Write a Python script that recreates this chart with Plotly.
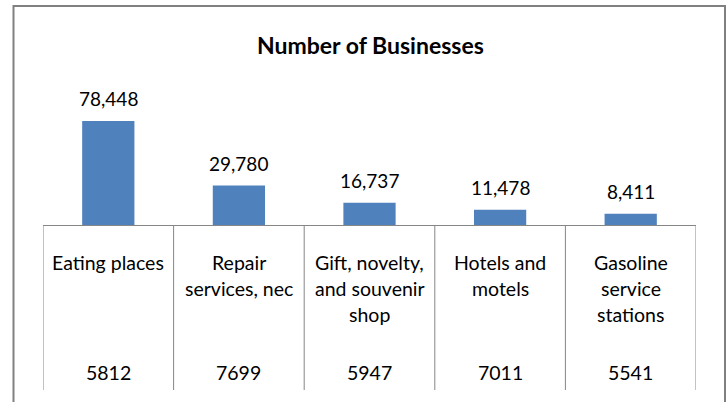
import plotly.graph_objects as go

categories = ["Eating places", "Repair<br>services, nec", "Gift, novelty,<br>and souvenir<br>shop",
              "Hotels and<br>motels", "Gasoline<br>service<br>stations"]
codes = ["5812", "7699", "5947", "7011", "5541"]
values = [78448, 29780, 16737, 11478, 8411]
title = "Number of Businesses"

W, H = 728, 402
L, R = 43, 696          # plot area left/right px
T, B = 60, 225          # plot area top/bottom px
ph = B - T
pw = R - L

def py(p):  # pixel y -> paper y
    return (B - p) / ph

def px(p):
    return (p - L) / pw

FONT = "Lato, 'Open Sans', sans-serif"
GRAY = "#868686"
x = list(range(len(values)))

fig = go.Figure()
fig.add_trace(go.Bar(x=x, y=values, marker=dict(color="#4F81BD", line=dict(width=0)),
                     width=0.40, hoverinfo="skip"))

ann = []
for i, v in enumerate(values):
    ann.append(dict(x=i, y=v, xref="x", yref="y", text=f"{v:,}", showarrow=False,
                    yanchor="bottom", yshift=9, font=dict(size=19, color="#000", family=FONT)))
    lines = categories[i].split("<br>")
    for j, ln in enumerate(lines):
        ann.append(dict(x=i, y=py(262 + 26 * j), xref="x", yref="paper", text=ln, showarrow=False,
                        yanchor="middle", font=dict(size=19.5, color="#000", family=FONT)))
    ann.append(dict(x=i, y=py(372), xref="x", yref="paper", text=codes[i], showarrow=False,
                    yanchor="middle", font=dict(size=19.5, color="#000", family=FONT)))
ann.append(dict(x=px(371), y=py(45), xref="paper", yref="paper", text="<b>" + title + "</b>",
                showarrow=False, xanchor="center", yanchor="middle",
                font=dict(size=23, color="#000", family=FONT)))

shapes = []
for k in range(len(values) + 1):
    shapes.append(dict(type="line", xref="x", yref="paper", x0=k - 0.5, x1=k - 0.5,
                       y0=0, y1=py(390), line=dict(color=GRAY, width=1)))
shapes.append(dict(type="rect", xref="paper", yref="paper", x0=px(13.5), x1=px(725),
                   y0=py(6), y1=py(420), line=dict(color="#808080", width=2)))

fig.update_layout(
    width=W, height=H, margin=dict(l=L, r=W - R, t=T, b=H - B),
    paper_bgcolor="white", plot_bgcolor="white", showlegend=False,
    xaxis=dict(range=[-0.5, len(values) - 0.5], showticklabels=False, ticks="",
               showgrid=False, zeroline=False, showline=True, linecolor=GRAY, linewidth=1,
               fixedrange=True),
    yaxis=dict(range=[0, 124400], visible=False, fixedrange=True),
    annotations=ann, shapes=shapes,
)
fig.write_html("out.html", config={"displayModeBar": False},
               post_script="document.body.style.margin='0';document.body.style.overflow='hidden';")
